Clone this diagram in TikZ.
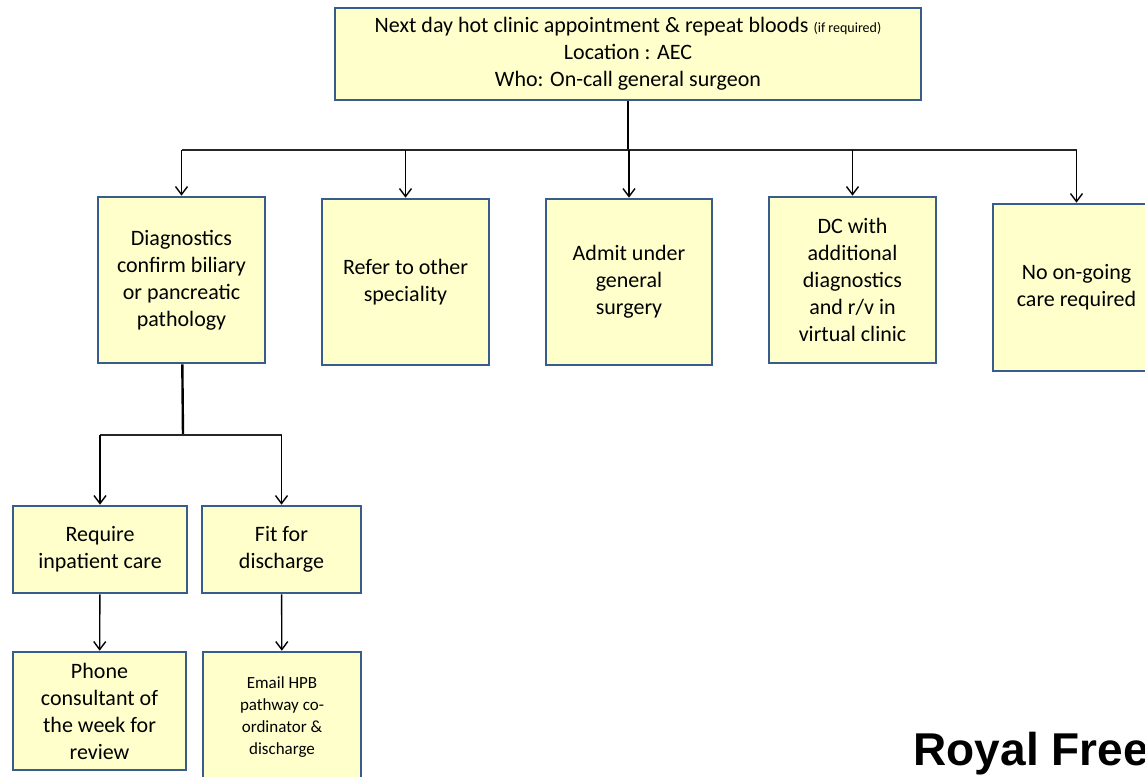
\documentclass[tikz,border=0pt]{standalone}
\usepackage{fontspec}
\setmainfont{Carlito}
\newfontfamily\logofont{Liberation Sans}
\usetikzlibrary{arrows.meta,positioning,calc}
\definecolor{boxedge}{RGB}{56,93,138}
\definecolor{boxfill}{RGB}{255,255,204}
\tikzset{
  card/.style={draw=boxedge, fill=boxfill, line width=2.6pt, align=center,
    inner sep=0pt, font=\fontsize{22}{27}\selectfont},
  trunkln/.style={line width=2.4pt, black},
  busln/.style={line width=1.6pt, black!85},
  flowln/.style={-{Straight Barb[length=8pt,width=12pt]}, line width=1.4pt},
}

\begin{document}
\begin{tikzpicture}[x=1pt,y=-1pt]
    \clip (0,0) rectangle (1145,776);
    % top box
    \node[card, minimum width=586pt, minimum height=92pt] (visit) at (628,54)
      {Next day hot clinic appointment \& repeat bloods {\fontsize{14}{16}\selectfont (if required)}\\
       Location : AEC\\Who: On-call general surgeon};
    % five outcomes
    \node[card, minimum width=167pt, minimum height=166pt] (diag) at (181.5,280)
      {Diagnostics\\confirm biliary\\or pancreatic\\pathology};
    \node[card, minimum width=167pt, minimum height=166pt] (refer) at (405.5,282)
      {Refer to other\\speciality};
    \node[card, minimum width=166pt, minimum height=166pt] (admit) at (629,282)
      {Admit under\\general\\surgery};
    \node[card, minimum width=167pt, minimum height=166pt] (dcvirt) at (852.5,280)
      {DC with\\additional\\diagnostics\\and r/v in\\virtual clinic};
    \node[card, minimum width=167pt, minimum height=167pt] (nocare) at (1076.5,287.5)
      {No on-going\\care required};
    \coordinate (split) at (628,150);
    \draw[trunkln] (visit) -- (split);
    \draw[busln] (split -| diag) -- (split -| nocare);
    \foreach \n in {diag,refer,admit,dcvirt,nocare}
      \draw[flowln] (split -| \n) -- (\n.north);
    % branch below diagnostics
    \node[card, minimum width=174pt, minimum height=87pt] (inpat) at (100,549.5)
      {Require\\inpatient care};
    \node[card, minimum width=159pt, minimum height=87pt] (fitdc) at (281.5,549.5)
      {Fit for\\discharge};
    \coordinate (fork) at (183,435);
    \draw[trunkln] (diag) -- (fork);
    \draw[busln] (fork -| inpat) -- (fork -| fitdc);
    \draw[flowln] (fork -| inpat) -- (inpat.north);
    \draw[flowln] (fork -| fitdc) -- (fitdc.north);
    % last step
    \node[card, minimum width=173pt, minimum height=118pt] (phone) at (99.5,711)
      {Phone\\consultant of\\the week for\\review};
    \node[card, minimum width=158pt, minimum height=130pt,
      font=\fontsize{17}{22}\selectfont] (email) at (282,717)
      {Email HPB\\pathway co-\\ordinator \&\\discharge};
    \draw[flowln] (inpat) -- (phone);
    \draw[flowln] (fitdc) -- (email);
    \node[anchor=base west, font=\logofont\bfseries\fontsize{46}{46}\selectfont]
      (brand) at (910,765) {Royal Free};
\end{tikzpicture}
\end{document}
